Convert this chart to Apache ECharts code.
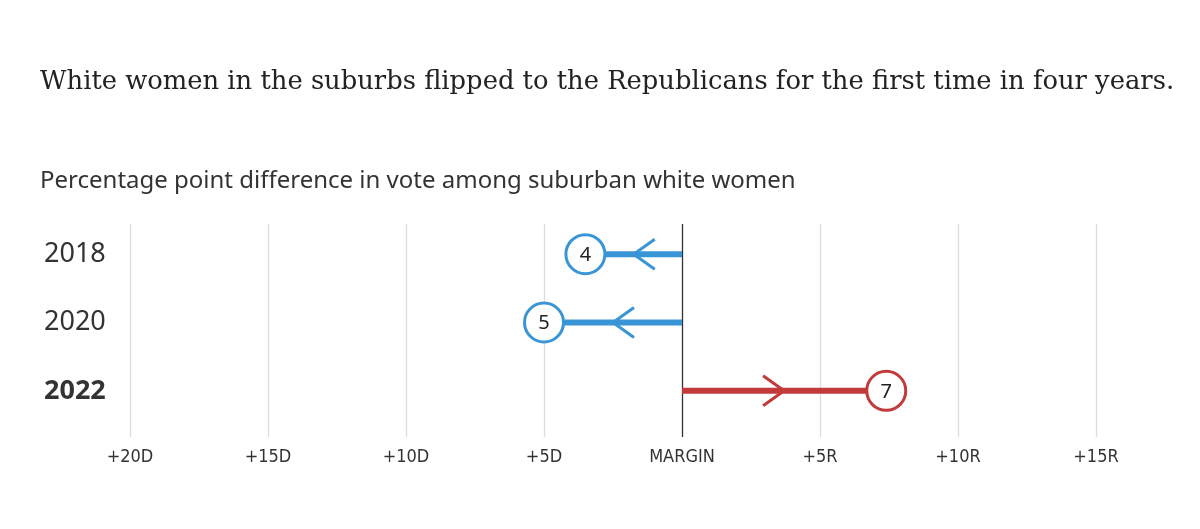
<!DOCTYPE html>
<html>
<head>
<meta charset="utf-8">
<script src="https://cdn.jsdelivr.net/npm/echarts@6/dist/echarts.min.js"></script>
<style>
  html, body { margin: 0; padding: 0; background: #fff; }
  #chart { width: 1200px; height: 529px; }
</style>
</head>
<body>
<div id="chart"></div>
<script>
// data
const years = ['2018', '2020', '2022'];
const margins = [-3.5, -5, 7.4];      // negative = D, positive = R
const marginLabels = ['4', '5', '7'];
const tickLabels = {'-20': '+20D', '-15': '+15D', '-10': '+10D', '-5': '+5D', '0': 'MARGIN', '5': '+5R', '10': '+10R', '15': '+15R'};

const DEM = '#3a95d6';
const REP = '#c33a3b';
const SANS = '"Noto Sans", sans-serif';

const chart = echarts.init(document.getElementById('chart'));

function renderArrow(params, api) {
  const v = api.value(0);
  const idx = api.value(1);
  const start = api.coord([0, idx]);
  const end = api.coord([v, idx]);
  const mid = api.coord([v / 2, idx]);
  const dir = v < 0 ? -1 : 1;
  const color = v < 0 ? DEM : REP;
  const y = start[1];
  return {
    type: 'group',
    children: [
      {
        type: 'line',
        shape: { x1: start[0], y1: y, x2: end[0], y2: y },
        style: { stroke: color, lineWidth: 6 }
      },
      {
        type: 'polyline',
        shape: { points: [[mid[0] - dir * 21, y - 15], [mid[0], y], [mid[0] - dir * 21, y + 15]] },
        style: { stroke: color, lineWidth: 3, fill: null }
      },
      {
        type: 'circle',
        shape: { cx: end[0], cy: y, r: 19.5 },
        style: { fill: '#fff', stroke: color, lineWidth: 3 }
      },
      {
        type: 'text',
        x: end[0], y: y + 1,
        style: {
          text: marginLabels[idx], align: 'center', verticalAlign: 'middle',
          font: '20px ' + SANS, fill: '#222'
        }
      }
    ]
  };
}

chart.setOption({
  animation: false,
  title: [
    {
      text: 'White women in the suburbs flipped to the Republicans for the first time in four years.',
      left: 35, top: 64,
      textStyle: { fontFamily: '"DejaVu Serif", serif', fontSize: 25.8, fontWeight: 'normal', color: '#222' }
    },
    {
      text: 'Percentage point difference in vote among suburban white women',
      left: 35, top: 164,
      textStyle: { fontFamily: SANS, fontSize: 24, fontWeight: 'normal', color: '#333' }
    }
  ],
  grid: [
    { left: 130, right: 104, top: 224, height: 213 },
    { left: 130, right: 104, top: 220, height: 205 }
  ],
  xAxis: [
    {
      gridIndex: 0, type: 'value', min: -20, max: 15, interval: 5,
      axisLine: { show: false }, axisTick: { show: false },
      splitLine: {
        lineStyle: {
          color: ['#dcdcdc', '#dcdcdc', '#dcdcdc', '#dcdcdc', '#333', '#dcdcdc', '#dcdcdc', '#dcdcdc'],
          width: 1.3
        }
      },
      axisLabel: {
        margin: 11,
        formatter: v => tickLabels[String(v)],
        fontFamily: '"DejaVu Sans Condensed", "Noto Sans", sans-serif',
        fontSize: 18, color: '#333'
      }
    },
    {
      gridIndex: 1, type: 'value', min: -20, max: 15, show: false
    }
  ],
  yAxis: [
    { gridIndex: 0, type: 'value', show: false },
    {
      gridIndex: 1, type: 'category', data: years, inverse: true,
      axisLine: { show: false }, axisTick: { show: false }, splitLine: { show: false },
      axisLabel: {
        align: 'left', margin: 86,
        fontFamily: SANS, fontSize: 27, color: '#333',
        formatter: v => v === '2022' ? '{b|' + v + '}' : v,
        rich: { b: { fontFamily: SANS, fontSize: 27, fontWeight: 'bold', color: '#333' } }
      }
    }
  ],
  series: [
    {
      type: 'custom',
      xAxisIndex: 1, yAxisIndex: 1,
      renderItem: renderArrow,
      data: margins.map((m, i) => [m, i])
    }
  ]
});
</script>
</body>
</html>
